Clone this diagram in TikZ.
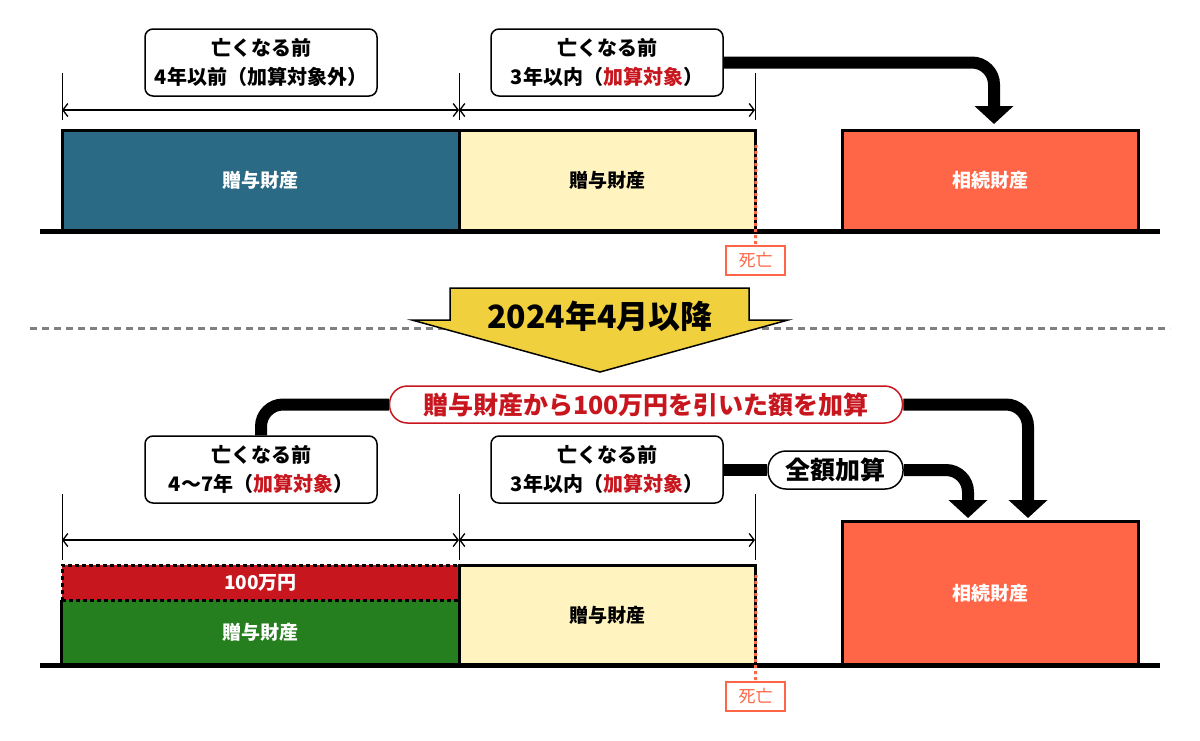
\documentclass[tikz,border=0pt]{standalone}
\usepackage{fontspec}
\setmainfont{Noto Sans CJK JP}
\usetikzlibrary{arrows.meta}
\definecolor{cblue}{HTML}{2B6A85}
\definecolor{cyel}{HTML}{FFF3C0}
\definecolor{corange}{HTML}{FF6647}
\definecolor{cgreen}{HTML}{267F1F}
\definecolor{cred}{HTML}{C8161E}
\definecolor{carrow}{HTML}{F0D03C}
\definecolor{cgray}{HTML}{808080}
\begin{document}
\begin{tikzpicture}[x=1pt,y=-1pt,
  infobox/.style={draw, line width=1.5pt, rounded corners=8pt, fill=white,
    minimum width=232pt, minimum height=67pt, align=center, inner sep=0pt,
    font=\fontsize{20}{29}\selectfont\bfseries},
  bar/.style={draw, line width=3pt, inner sep=0pt, font=\fontsize{19}{22}\selectfont\bfseries},
  deathbox/.style={draw=corange, line width=1.5pt, fill=white, text=corange,
    minimum width=59pt, minimum height=29pt, inner sep=0pt, font=\fontsize{17}{20}\selectfont},
  deathline/.style={corange, line width=3pt, dash pattern=on 3pt off 3pt},
  dim/.style={line width=1.3pt, {Straight Barb[length=5pt,width=13pt]}-{Straight Barb[length=5pt,width=13pt]}},
  tick/.style={line width=1pt},
  bigline/.style={line width=12pt, rounded corners=22pt},
  bigarrow/.style={line width=12pt, rounded corners=22pt, -{Triangle[width=38pt,length=18pt]}},
  pill/.style={line width=1.5pt, fill=white, rounded corners=18pt, inner sep=0pt,
    font=\fontsize{25}{28}\selectfont\bfseries}
]
\useasboundingbox (0,0) rectangle (1200,740);

% ---------- top section ----------
\node[infobox] (box1) at (261,62.5) {亡くなる前\\4年以前（加算対象外）};
\node[infobox] (box2) at (607,62.5) {亡くなる前\\3年以内（\textcolor{cred}{加算対象}）};

\coordinate (d1a) at (62,110);
\coordinate (d1b) at (459,110);
\coordinate (d1c) at (755,110);
\draw[tick] (62,73) -- (62,120);
\draw[tick] (459,73) -- (459,120);
\draw[tick] (755,73) -- (755,120);
\draw[dim] (d1a) -- (d1b);
\draw[dim] (d1b) -- (d1c);

\node[bar, fill=cblue, text=white, minimum width=397pt, minimum height=100pt] (g1) at (260.5,180) {贈与財産};
\node[bar, fill=cyel, minimum width=296pt, minimum height=100pt] (g2) at (607,180) {贈与財産};
\node[bar, fill=corange, text=white, minimum width=296pt, minimum height=100pt] (s1) at (990,180) {相続財産};
\draw[line width=5pt] (40,231) -- (1160,231);

\node[deathbox] (death1) at (755.5,260.5) {死亡};
\coordinate (dl1) at (756,145);
\draw[deathline] (dl1) -- (death1.north);

\coordinate (t1) at (994,124);
\draw[bigarrow] (box2.east) -| (t1);

% ---------- middle ----------
\draw[cgray, line width=3pt, dash pattern=on 7pt off 5pt] (30,328.5) -- (1170,328.5);
\draw[fill=carrow, line width=1.5pt, line join=miter]
  (450,288) -- (749,288) -- (749,320) -- (788,320) -- (600,372) -- (412,320) -- (450,320) -- cycle;
\node[font=\fontsize{32}{36}\selectfont\bfseries] (title) at (600,316) {2024年4月以降};

% ---------- bottom section ----------
\node[pill, draw=cred, text=cred, minimum width=513pt, minimum height=37pt] (p1) at (646,404.5) {贈与財産から100万円を引いた額を加算};
\node[infobox] (box3) at (261,469.5) {亡くなる前\\4〜7年（\textcolor{cred}{加算対象}）};
\node[infobox] (box4) at (607,469.5) {亡くなる前\\3年以内（\textcolor{cred}{加算対象}）};
\node[pill, draw=black, minimum width=135pt, minimum height=38pt] (z) at (835.5,470) {全額加算};

\coordinate (t2) at (1028,518);
\coordinate (t3) at (968,518);
\draw[bigline] (box3.north) |- (p1.west);
\draw[bigarrow] (p1.east) -| (t2);
\draw[bigline] (box4.east) -- (box4.east -| z.west);
\draw[bigarrow] (z.east) -| (t3);

\coordinate (d2a) at (62,540);
\coordinate (d2b) at (459,540);
\coordinate (d2c) at (755,540);
\draw[tick] (62,494) -- (62,560);
\draw[tick] (459,494) -- (459,560);
\draw[tick] (755,494) -- (755,560);
\draw[dim] (d2a) -- (d2b);
\draw[dim] (d2b) -- (d2c);

\node[fill=cgreen, text=white, inner sep=0pt, minimum width=397pt, minimum height=65pt,
  font=\fontsize{19}{22}\selectfont\bfseries] (g3) at (260.5,632.5) {贈与財産};
\draw[line width=3pt] (g3.north west) -- (g3.south west) -- (g3.south east) -- (g3.north east);
\node[bar, fill=cred, text=white, dash pattern=on 4pt off 3pt, minimum width=397pt, minimum height=35pt] (r100) at (260.5,582.5) {100万円};
\node[bar, fill=cyel, minimum width=296pt, minimum height=100pt] (g4) at (607,615) {贈与財産};
\node[bar, fill=corange, text=white, minimum width=296pt, minimum height=144pt] (s2) at (990,593) {相続財産};
\draw[line width=5pt] (40,665) -- (1160,665);

\node[deathbox] (death2) at (755.5,696.5) {死亡};
\coordinate (dl2) at (756,575);
\draw[deathline] (dl2) -- (death2.north);
\end{tikzpicture}
\end{document}
